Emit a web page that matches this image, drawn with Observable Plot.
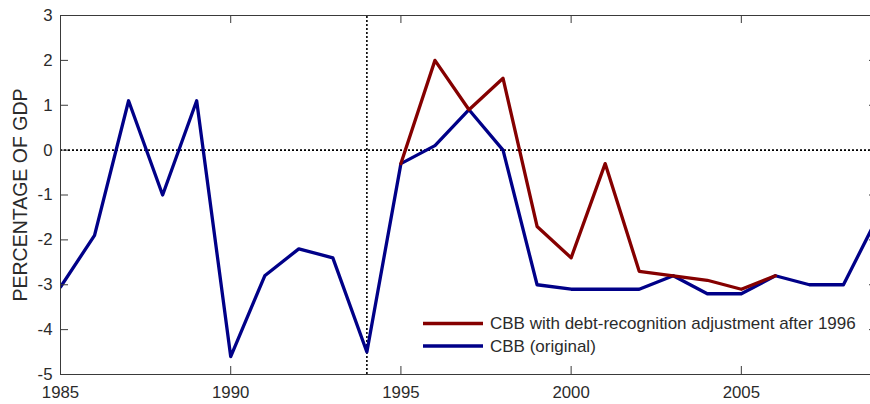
<!DOCTYPE html>
<html>
<head>
<meta charset="utf-8">
<script src="https://cdn.jsdelivr.net/npm/d3@7"></script>
<script src="https://cdn.jsdelivr.net/npm/@observablehq/plot@0.6"></script>
<style>
  html, body { margin: 0; padding: 0; background: #fff; overflow: hidden; }
  #chart { width: 870px; height: 404px; }
</style>
</head>
<body>
<div id="chart"></div>
<script>
const years = [1985,1986,1987,1988,1989,1990,1991,1992,1993,1994,1995,1996,1997,1998,1999,2000,2001,2002,2003,2004,2005,2006,2007,2008,2009];
const cbbOriginal = [-3.05,-1.9,1.1,-1.0,1.1,-4.6,-2.8,-2.2,-2.4,-4.5,-0.3,0.1,0.9,0.0,-3.0,-3.1,-3.1,-3.1,-2.8,-3.2,-3.2,-2.8,-3.0,-3.0,-1.5];
const adjYears = [1995,1996,1997,1998,1999,2000,2001,2002,2003,2004,2005,2006];
const cbbAdjusted = [-0.3,2.0,0.9,1.6,-1.7,-2.4,-0.3,-2.7,-2.8,-2.9,-3.1,-2.8];
const xTicks = [1985,1990,1995,2000,2005];
const yTicks = [-5,-4,-3,-2,-1,0,1,2,3];
const seriesNames = ["CBB with debt-recognition adjustment after 1996", "CBB (original)"];
const seriesColors = ["#850000", "#000088"];
const yLabel = "PERCENTAGE OF GDP";
const markerYear = 1994;

const original = years.map((y, i) => ({year: y, value: cbbOriginal[i]}));
const adjusted = adjYears.map((y, i) => ({year: y, value: cbbAdjusted[i]}));

const font = "'Liberation Sans', Arial, Helvetica, sans-serif";
const axisColor = "#3a3a3a";
const textColor = "#2b2b2b";
const xMin = years[0], xMax = years[years.length - 1];
const yMin = yTicks[0], yMax = yTicks[yTicks.length - 1];

const plot = Plot.plot({
  width: 870,
  height: 404,
  marginLeft: 60,
  marginTop: 15,
  marginBottom: 30,
  marginRight: 0,
  style: {fontFamily: font, background: "#fff", overflow: "hidden"},
  x: {domain: [xMin, xMax], range: [60, 877], axis: null},
  y: {domain: [yMin, yMax], range: [374, 15], axis: null},
  marks: [
    Plot.ruleY([0], {x1: xMin, x2: xMax, stroke: "#000", strokeWidth: 1.6, strokeDasharray: "2,2"}),
    Plot.ruleX([markerYear], {y1: yMin, y2: yMax, stroke: "#000", strokeWidth: 1.6, strokeDasharray: "2,2"}),
    Plot.line(original, {x: "year", y: "value", stroke: seriesColors[1], strokeWidth: 3.3, clip: true}),
    Plot.line(adjusted, {x: "year", y: "value", stroke: seriesColors[0], strokeWidth: 3.3, clip: true}),
    Plot.ruleY([yMin, yMax], {x1: xMin, x2: xMax, stroke: axisColor, strokeWidth: 1}),
    Plot.ruleX([xMin, xMax], {y1: yMin, y2: yMax, stroke: axisColor, strokeWidth: 1}),
    Plot.ruleX(xTicks, {x: d => d, y1: yMin, y2: yMin, insetBottom: 8, stroke: axisColor}),
    Plot.ruleX(xTicks, {x: d => d, y1: yMax, y2: yMax, insetBottom: -8, stroke: axisColor}),
    Plot.ruleY(yTicks, {y: d => d, x1: xMin, x2: xMin, insetRight: -8, stroke: axisColor}),
    Plot.ruleY(yTicks, {y: d => d, x1: xMax, x2: xMax, insetLeft: -8, stroke: axisColor}),
    Plot.text(xTicks, {x: d => d, y: yMin, dy: 18, text: d => String(d), fontSize: 16.8, fill: textColor, textAnchor: "middle"}),
    Plot.text(yTicks, {x: xMin, y: d => d, dx: -8, text: d => String(d), fontSize: 16.8, fill: textColor, textAnchor: "end"}),
    Plot.text([yLabel], {frameAnchor: "left", dx: -40, rotate: -90, text: d => d, fontSize: 19.5, fill: textColor, textAnchor: "middle"})
  ]
});

const svg = d3.select(plot);
const legend = svg.append("g").attr("text-anchor", "start");
const rows = [323.5, 346];
seriesNames.forEach((name, i) => {
  legend.append("line")
    .attr("x1", 423).attr("x2", 483)
    .attr("y1", rows[i]).attr("y2", rows[i])
    .attr("stroke", seriesColors[i]).attr("stroke-width", 3.3);
  legend.append("text")
    .attr("x", 490).attr("y", rows[i])
    .attr("dy", "0.35em")
    .attr("text-anchor", "start")
    .attr("font-size", 17)
    .attr("font-family", font)
    .attr("fill", textColor)
    .text(name);
});

document.getElementById("chart").appendChild(plot);
</script>
</body>
</html>
